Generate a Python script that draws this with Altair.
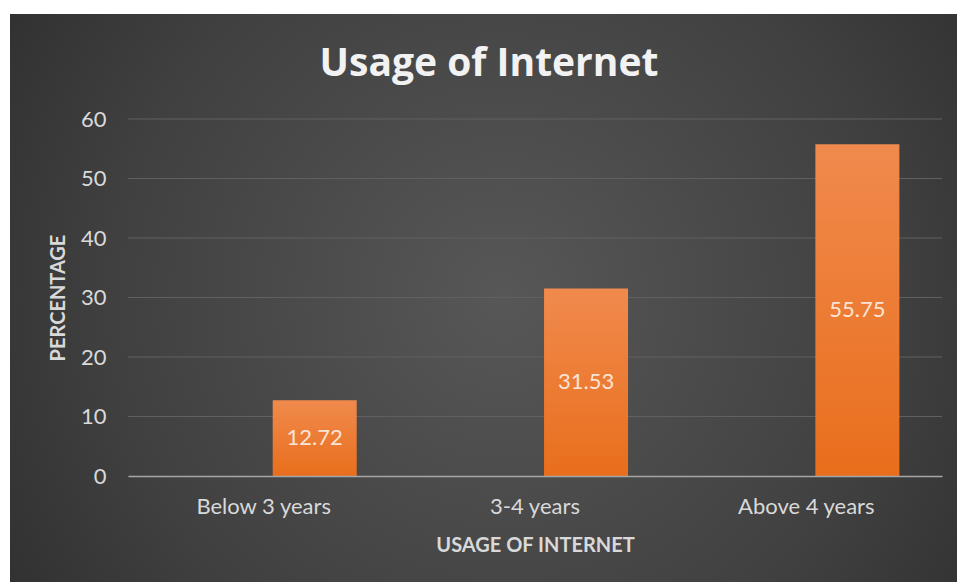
import altair as alt
import pandas as pd

categories = ["Below 3 years", "3-4 years", "Above 4 years"]
values = [12.72, 31.53, 55.75]
series = ["Series1"] * 3
y_ticks = [0, 10, 20, 30, 40, 50, 60]

df = pd.DataFrame({"cat": categories, "value": values, "series": series})
grid_df = pd.DataFrame({"tick": y_ticks[1:]})

W, H = 814, 357
PL, PT, PR, PB = 128, 119, 15, 106

FONT = "Lato"
TXT = "#d9d9d9"

y_scale = alt.Scale(domain=[0, 60], nice=False)

bg = alt.Chart(pd.DataFrame({"a": [0]})).mark_rect(
    color=alt.Gradient(gradient="radial",
                       stops=[alt.GradientStop(color="#575757", offset=0),
                              alt.GradientStop(color="#404040", offset=0.55),
                              alt.GradientStop(color="#262626", offset=1)],
                       x1=0.52, y1=0.5, x2=0.52, y2=0.5, r1=0, r2=0.75)
).encode(x=alt.value(10 - PL), x2=alt.value(W + PR),
         y=alt.value(14 - PT), y2=alt.value(H + PB))

grid = alt.Chart(grid_df).mark_rule(color="#606060", strokeWidth=1.2).encode(
    y=alt.Y("tick:Q", scale=y_scale),
    x=alt.value(0), x2=alt.value(W),
)

x_enc = alt.X("cat:N", sort=categories,
              scale=alt.Scale(paddingInner=0, paddingOuter=0),
              axis=alt.Axis(title="USAGE OF INTERNET", labelAngle=0, ticks=False,
                            labelPadding=20, labelFontSize=22, labelColor=TXT,
                            labelFont=FONT, titleFont=FONT, titleFontSize=20,
                            titleFontWeight="bold", titleColor=TXT,
                            titlePadding=18, domainColor="#a6a6a6", domainWidth=1.5,
                            grid=False, zindex=1))
xo_enc = alt.XOffset("series:N",
                     scale=alt.Scale(domain=["blank", "Series1"],
                                     paddingInner=0.176, paddingOuter=0.417))

bars = alt.Chart(df).mark_bar(
    size=84,
    color=alt.Gradient(gradient="linear",
                       stops=[alt.GradientStop(color="#f08a4d", offset=0),
                              alt.GradientStop(color="#e96e1c", offset=1)],
                       x1=0, x2=0, y1=0, y2=1)
).encode(
    x=x_enc,
    xOffset=xo_enc,
    y=alt.Y("value:Q", scale=y_scale,
            axis=alt.Axis(title="PERCENTAGE", values=y_ticks, ticks=False, domain=False,
                          grid=False, zindex=1,
                          labelPadding=22, labelFontSize=22, labelColor=TXT,
                          labelFont=FONT, titleFont=FONT, titleFontSize=20,
                          titleFontWeight="bold", titleColor=TXT, titlePadding=12)),
)

labels = alt.Chart(df).transform_calculate(mid="datum.value / 2").mark_text(
    font=FONT, fontSize=22, color="#fbe5d6", baseline="middle"
).encode(
    x=alt.X("cat:N", sort=categories),
    xOffset=alt.XOffset("series:N"),
    y=alt.Y("mid:Q"),
    text=alt.Text("value:Q", format=".2f"),
)

chart = alt.layer(bg, grid, bars, labels).properties(
    width=W, height=H,
    title=alt.TitleParams("Usage of Internet", font="Open Sans", fontSize=39,
                          fontWeight="bold", color="#f2f2f2", anchor="middle",
                          offset=-70, frame="group", dx=-46, zindex=2),
    padding={"left": PL, "top": PT, "right": PR, "bottom": PB},
    autosize=alt.AutoSizeParams(type="none"),
    background="white",
).configure_view(stroke=None)

chart.save("out.html", embed_options={"renderer": "svg", "actions": False})
